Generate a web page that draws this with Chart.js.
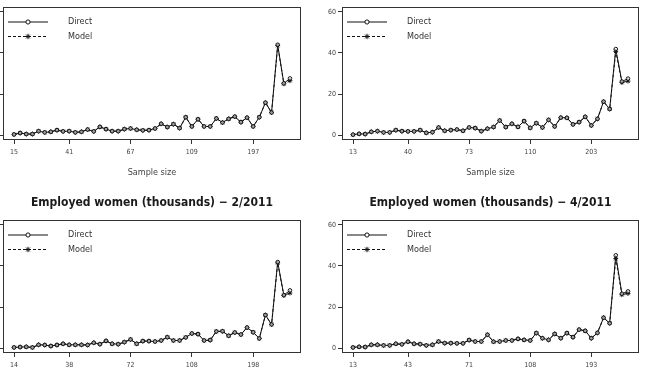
<!DOCTYPE html>
<html>
<head>
<meta charset="utf-8">
<script src="https://cdn.jsdelivr.net/npm/chart.js@4.4.0/dist/chart.umd.min.js"></script>
<style>
  html, body { margin: 0; padding: 0; background: #fff; overflow: hidden; }
  body { width: 646px; height: 379px; position: relative; }
  canvas { position: absolute; }
</style>
</head>
<body>
<canvas id="c1" width="339" height="190" style="left:-16px;top:0"></canvas>
<canvas id="c2" width="323" height="190" style="left:323px;top:0"></canvas>
<canvas id="c3" width="339" height="189" style="left:-16px;top:190px"></canvas>
<canvas id="c4" width="323" height="189" style="left:323px;top:190px"></canvas>
<script>
const tickIdx = [1, 10, 20, 30, 40];
const yTicks = [0, 20, 40, 60];

const sampleA = [15, 41, 67, 109, 197];
const directA = [0.3, 1.0, 0.5, 0.5, 1.9, 1.3, 1.6, 2.4, 1.8, 1.9,
  1.3, 1.6, 2.7, 1.8, 4.0, 2.9, 1.9, 1.9, 2.9, 3.2,
  2.6, 2.3, 2.4, 3.2, 5.5, 3.9, 5.3, 3.4, 8.7, 4.2,
  7.7, 4.2, 4.2, 8.1, 6.1, 7.9, 9.0, 6.3, 8.5, 4.2,
  8.7, 15.8, 11.0, 44.0, 25.2, 27.6];
const modelA = [0.3, 1.0, 0.5, 0.5, 1.9, 1.3, 1.6, 2.4, 1.8, 1.9,
  1.3, 1.6, 2.7, 1.8, 4.0, 2.9, 1.9, 1.9, 2.9, 3.2,
  2.6, 2.3, 2.4, 3.2, 5.5, 3.9, 5.3, 3.4, 8.7, 4.2,
  7.7, 4.2, 4.2, 8.1, 6.1, 7.9, 9.0, 6.3, 8.5, 4.2,
  8.7, 15.8, 11.0, 43.6, 25.0, 26.5];

const sampleB = [13, 40, 73, 110, 203];
const directB = [0.2, 0.6, 0.5, 1.6, 1.9, 1.3, 1.3, 2.4, 1.9, 1.8,
  1.8, 2.4, 1.1, 1.4, 3.7, 2.1, 2.4, 2.7, 2.1, 3.7,
  3.4, 1.9, 3.1, 3.9, 7.1, 3.9, 5.5, 4.0, 6.8, 3.5,
  5.8, 3.7, 7.4, 4.2, 8.5, 8.4, 5.2, 6.3, 8.9, 4.7,
  7.9, 16.3, 12.7, 41.9, 26.1, 27.5];
const modelB = [0.2, 0.6, 0.5, 1.6, 1.9, 1.3, 1.3, 2.4, 1.9, 1.8,
  1.8, 2.4, 1.1, 1.4, 3.7, 2.1, 2.4, 2.7, 2.1, 3.7,
  3.4, 1.9, 3.1, 3.9, 7.1, 3.9, 5.5, 4.0, 6.8, 3.5,
  5.8, 3.7, 7.4, 4.2, 8.5, 8.4, 5.2, 6.3, 8.9, 4.7,
  7.9, 16.3, 12.7, 40.8, 25.6, 26.3];

const sampleC = [14, 38, 72, 108, 198];
const directC = [0.3, 0.5, 0.6, 0.3, 1.6, 1.5, 1.0, 1.5, 2.1, 1.6,
  1.6, 1.6, 1.5, 2.6, 1.9, 3.5, 2.1, 1.9, 2.9, 4.2,
  2.1, 3.4, 3.4, 3.2, 3.7, 5.3, 3.7, 3.7, 5.2, 7.1,
  6.8, 3.7, 3.9, 8.1, 8.2, 6.0, 7.6, 6.6, 10.0, 7.7,
  4.7, 16.1, 11.5, 41.9, 25.8, 28.1];
const modelC = [0.3, 0.5, 0.6, 0.3, 1.6, 1.5, 1.0, 1.5, 2.1, 1.6,
  1.6, 1.6, 1.5, 2.6, 1.9, 3.5, 2.1, 1.9, 2.9, 4.2,
  2.1, 3.4, 3.4, 3.2, 3.7, 5.3, 3.7, 3.7, 5.2, 7.1,
  6.8, 3.7, 3.9, 8.1, 8.2, 6.0, 7.6, 6.6, 10.0, 7.7,
  4.7, 16.1, 11.5, 41.5, 25.6, 26.8];

const sampleD = [13, 43, 71, 108, 193];
const directD = [0.3, 0.6, 0.5, 1.6, 1.6, 1.3, 1.3, 2.1, 1.8, 3.1,
  2.1, 1.9, 1.3, 1.6, 3.2, 2.4, 2.4, 2.3, 2.3, 3.9,
  3.2, 3.2, 6.5, 3.1, 3.2, 3.7, 3.7, 4.5, 4.0, 3.7,
  7.3, 4.8, 4.0, 6.9, 4.8, 7.3, 5.3, 9.0, 8.4, 4.8,
  7.4, 14.8, 12.1, 45.2, 26.5, 27.6];
const modelD = [0.3, 0.6, 0.5, 1.6, 1.6, 1.3, 1.3, 2.1, 1.8, 3.1,
  2.1, 1.9, 1.3, 1.6, 3.2, 2.4, 2.4, 2.3, 2.3, 3.9,
  3.2, 3.2, 6.5, 3.1, 3.2, 3.7, 3.7, 4.5, 4.0, 3.7,
  7.3, 4.8, 4.0, 6.9, 4.8, 7.3, 5.3, 9.0, 8.4, 4.8,
  7.4, 14.8, 12.1, 43.6, 26.0, 26.6];

const titleC = "Employed women (thousands) \u2212 2/2011";
const titleD = "Employed women (thousands) \u2212 4/2011";

const fonte = "'DejaVu Sans Condensed', 'Liberation Sans', sans-serif";
Chart.defaults.font.family = fonte;

// box around the plot + legend inside it (R style, no legend frame)
const moldura = {
  id: "moldura",
  afterDraw(chart) {
    const { ctx, chartArea: a } = chart;
    ctx.save();
    ctx.strokeStyle = "#333";
    ctx.lineWidth = 1;
    ctx.strokeRect(Math.round(a.left) + 0.5, Math.round(a.top) + 0.5,
      Math.round(a.right - a.left) - 1, Math.round(a.bottom - a.top) - 1);

    chart.data.datasets.forEach((ds, i) => {
      const y = a.top + 15 + i * 14.5;
      const x0 = a.left + 5;
      ctx.strokeStyle = "#111";
      ctx.lineWidth = 1;
      ctx.setLineDash(ds.borderDash || []);
      ctx.beginPath();
      ctx.moveTo(x0, y);
      ctx.lineTo(x0 + 40, y);
      ctx.stroke();
      ctx.setLineDash([]);
      ctx.fillStyle = "#fff";
      Chart.helpers.drawPoint(ctx, {
        pointStyle: ds.pointStyle, radius: ds.pointRadius + 0.3, rotation: 0, borderWidth: 1
      }, x0 + 20, y);
      ctx.fillStyle = "#333";
      ctx.font = "9px " + fonte;
      ctx.textBaseline = "middle";
      ctx.fillText(ds.label, a.left + 65, y);
    });
    ctx.restore();
  }
};

function desenharPainel(id, sample, direct, model, titulo, layout) {
  const ctx = document.getElementById(id).getContext("2d");
  new Chart(ctx, {
    type: "line",
    data: {
      datasets: [
        {
          label: "Direct",
          data: direct.map((v, i) => ({ x: i + 1, y: v })),
          borderColor: "#111",
          borderWidth: 1,
          pointStyle: "circle",
          pointRadius: 1.8,
          pointBorderColor: "#111",
          pointBackgroundColor: "rgba(255,255,255,0.6)",
          pointBorderWidth: 1,
          tension: 0
        },
        {
          label: "Model",
          data: model.map((v, i) => ({ x: i + 1, y: v })),
          borderColor: "#111",
          borderWidth: 1,
          borderDash: [3, 2],
          pointStyle: "star",
          pointRadius: 2.4,
          pointBorderColor: "#111",
          pointBorderWidth: 1,
          tension: 0
        }
      ]
    },
    options: {
      responsive: false,
      animation: false,
      layout: { padding: layout.padding },
      plugins: {
        legend: { display: false },
        tooltip: { enabled: false },
        title: {
          display: !!titulo,
          text: titulo,
          fullSize: false,
          color: "#1a1a1a",
          font: { size: 12, weight: "bold" },
          padding: { top: 5.8, bottom: 9.8 }
        }
      },
      scales: {
        x: {
          type: "linear",
          min: -0.8,
          max: 47.8,
          afterBuildTicks: (s) => { s.ticks = tickIdx.map((v) => ({ value: v })); },
          afterFit: (s) => { s.height = layout.xHeight; s.paddingLeft = 0; s.paddingRight = 0; },
          ticks: {
            callback: (v, i) => sample[i],
            color: "#444",
            font: { size: 7 },
            padding: 4,
            maxRotation: 0,
            autoSkip: false
          },
          grid: { drawOnChartArea: false, tickLength: 4, color: "#333" },
          border: { display: false },
          title: {
            display: layout.xTitle,
            text: "Sample size",
            color: "#444",
            font: { size: 9 },
            padding: { top: 0, bottom: 12.4 }
          }
        },
        y: {
          min: -2.4,
          max: 62.4,
          afterBuildTicks: (s) => { s.ticks = yTicks.map((v) => ({ value: v })); },
          afterFit: (s) => { s.width = 19; s.paddingTop = 0; s.paddingBottom = 0; },
          ticks: { color: "#444", font: { size: 7 }, padding: 2 },
          grid: { drawOnChartArea: false, tickLength: 4, color: "#333" },
          border: { display: false }
        }
      }
    },
    plugins: [moldura]
  });
}

desenharPainel("c1", sampleA, directA, modelA, "",
  { padding: { top: 7, right: 22, bottom: 0, left: 0 }, xHeight: 50, xTitle: true });
desenharPainel("c2", sampleB, directB, modelB, "",
  { padding: { top: 7, right: 7, bottom: 0, left: 0 }, xHeight: 50, xTitle: true });
desenharPainel("c3", sampleC, directC, modelC, titleC,
  { padding: { top: 0, right: 22, bottom: 0, left: 0 }, xHeight: 26, xTitle: false });
desenharPainel("c4", sampleD, directD, modelD, titleD,
  { padding: { top: 0, right: 7, bottom: 0, left: 0 }, xHeight: 26, xTitle: false });
</script>
</body>
</html>
